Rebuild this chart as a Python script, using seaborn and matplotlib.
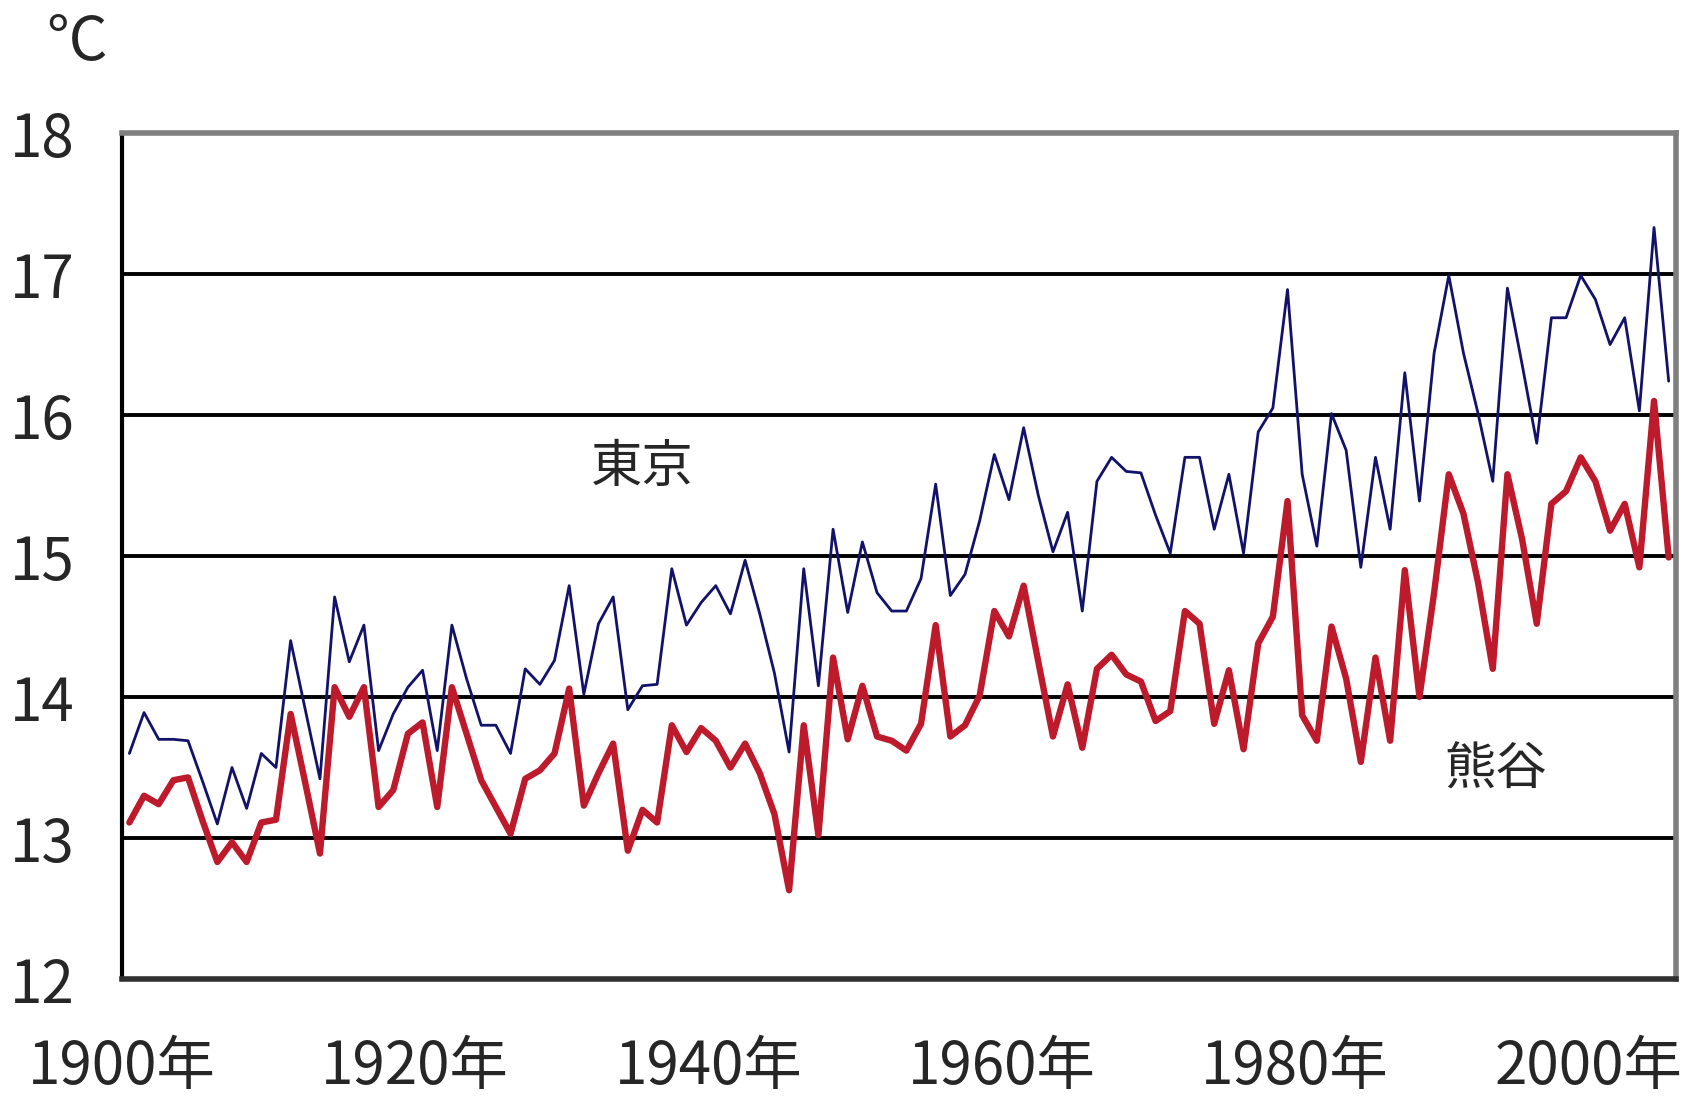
import numpy as np
import pandas as pd
import matplotlib
matplotlib.use("Agg")
import matplotlib.pyplot as plt
import seaborn as sns

# annual mean temperature (1900-2005)
years = np.arange(1900, 2006)
tokyo = [
    13.60, 13.89, 13.70, 13.70, 13.69, 13.40, 13.10, 13.50, 13.21, 13.60,
    13.50, 14.40, 13.91, 13.42, 14.71, 14.25, 14.51, 13.62, 13.88, 14.07,
    14.19, 13.62, 14.51, 14.13, 13.80, 13.80, 13.60, 14.20, 14.09, 14.26,
    14.79, 14.02, 14.52, 14.71, 13.91, 14.08, 14.09, 14.91, 14.51, 14.67,
    14.79, 14.59, 14.97, 14.59, 14.17, 13.61, 14.91, 14.08, 15.19, 14.60,
    15.10, 14.74, 14.61, 14.61, 14.84, 15.51, 14.72, 14.87, 15.25, 15.72,
    15.40, 15.91, 15.43, 15.03, 15.31, 14.61, 15.53, 15.70, 15.60, 15.59,
    15.29, 15.02, 15.70, 15.70, 15.19, 15.58, 15.02, 15.88, 16.05, 16.89,
    15.58, 15.07, 16.01, 15.75, 14.92, 15.70, 15.19, 16.30, 15.39, 16.44,
    16.99, 16.44, 16.01, 15.53, 16.90, 16.36, 15.80, 16.69, 16.69, 16.99,
    16.82, 16.50, 16.69, 16.03, 17.33, 16.24,
]
kumagaya = [
    13.11, 13.30, 13.24, 13.41, 13.43, 13.12, 12.83, 12.97, 12.83, 13.11,
    13.13, 13.88, 13.39, 12.89, 14.07, 13.86, 14.07, 13.22, 13.34, 13.74,
    13.82, 13.22, 14.07, 13.74, 13.41, 13.22, 13.03, 13.42, 13.48, 13.60,
    14.06, 13.23, 13.46, 13.67, 12.91, 13.20, 13.11, 13.80, 13.61, 13.78,
    13.69, 13.50, 13.67, 13.46, 13.17, 12.63, 13.80, 13.02, 14.28, 13.70,
    14.08, 13.72, 13.69, 13.62, 13.81, 14.51, 13.72, 13.80, 14.01, 14.61,
    14.43, 14.79, 14.25, 13.72, 14.09, 13.64, 14.20, 14.30, 14.16, 14.11,
    13.83, 13.90, 14.61, 14.52, 13.81, 14.19, 13.63, 14.38, 14.57, 15.39,
    13.87, 13.69, 14.50, 14.13, 13.54, 14.28, 13.69, 14.90, 14.00, 14.74,
    15.58, 15.30, 14.81, 14.20, 15.58, 15.12, 14.52, 15.37, 15.46, 15.70,
    15.53, 15.18, 15.37, 14.92, 16.10, 14.99,
]
y_ticks = [12, 13, 14, 15, 16, 17, 18]
x_labels = ['1900年', '1920年', '1940年', '1960年', '1980年', '2000年']

df = pd.DataFrame({'year': years, '東京': tokyo, '熊谷': kumagaya})

sns.set_style('white')
plt.rcParams['font.family'] = ['Liberation Sans Narrow', 'Noto Sans CJK JP', 'DejaVu Sans']

fig = plt.figure(figsize=(16.95, 11.06), dpi=100)
ax = fig.add_axes([0.072, 0.1148, 0.9168, 0.7649])

# horizontal grid lines
for v in y_ticks[1:-1]:
    ax.axhline(v, color='black', lw=2.8, zorder=1)

sns.lineplot(data=df, x='year', y='熊谷', color='#bd1a2c', lw=4.6, ax=ax, zorder=2)
sns.lineplot(data=df, x='year', y='東京', color='#12126a', lw=2.0, ax=ax, zorder=3)

ax.set_xlim(1899.5, 2005.5)
ax.set_ylim(12, 18)
ax.set_xlabel('')
ax.set_ylabel('')

ticks = np.arange(1899.5, 2005, 5)
ax.set_xticks(ticks)
ax.set_xticklabels([x_labels[i // 4] if i % 4 == 0 else '' for i in range(len(ticks))])
ax.tick_params(axis='x', direction='in', length=14, width=1.3, color='black',
               pad=42, labelsize=42)
ax.set_yticks(y_ticks)
ax.tick_params(axis='y', length=0, pad=34, labelsize=42)

for side in ['top', 'right']:
    ax.spines[side].set_color('#7f7f7f')
    ax.spines[side].set_linewidth(4)
ax.spines['left'].set_color('black')
ax.spines['left'].set_linewidth(3)
ax.spines['bottom'].set_color('#303030')
ax.spines['bottom'].set_linewidth(4)

ax.text(1935.0, 15.63, '東京', fontsize=37, family='Noto Sans CJK JP',
        ha='center', va='center', zorder=4)
ax.text(1993.2, 13.48, '熊谷', fontsize=37, family='Noto Sans CJK JP',
        ha='center', va='center', zorder=4)
fig.text(77 / 1695, 1 - 43 / 1106, '°C', fontsize=44, ha='center', va='center')

fig.savefig('out.png', dpi=100, facecolor='white')
